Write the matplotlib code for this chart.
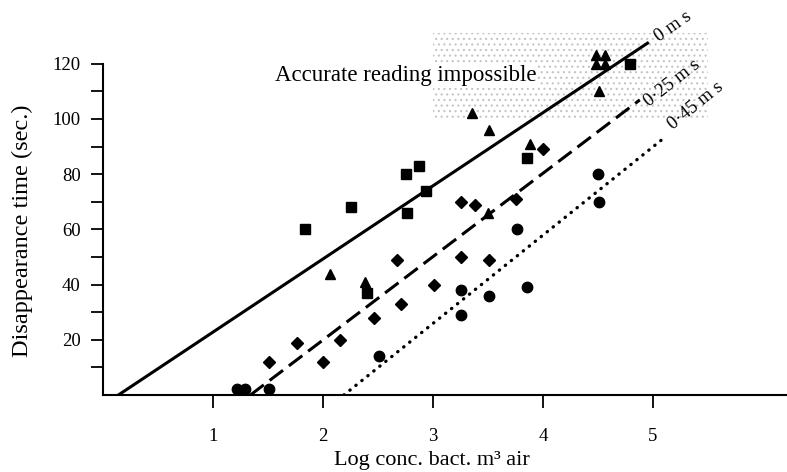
import matplotlib
matplotlib.use("Agg")
import matplotlib.pyplot as plt
from matplotlib.patches import Rectangle

# === DONNÉES ===
squares_x = [1.84, 2.25, 2.40, 2.75, 2.76, 2.87, 2.94, 3.85, 4.79]
squares_y = [60, 68, 37, 80, 66, 83, 74, 86, 120]

triangles_x = [2.06, 2.38, 3.35, 3.50, 3.51, 3.88, 4.51, 4.48, 4.56, 4.48, 4.56]
triangles_y = [44, 41, 102, 66, 96, 91, 110, 123, 123, 120, 120]

diamonds_x = [1.51, 1.76, 2.00, 2.15, 2.46, 2.67, 2.71, 3.01, 3.25, 3.25, 3.38, 3.51, 3.75, 4.00]
diamonds_y = [12, 19, 12, 20, 28, 49, 33, 40, 50, 70, 69, 49, 71, 89]

circles_x = [1.22, 1.29, 1.51, 2.51, 3.25, 3.25, 3.51, 3.76, 3.85, 4.50, 4.51]
circles_y = [2, 2, 2, 14, 38, 29, 36, 60, 39, 80, 70]

# droites (x début, x fin, pente)
line_labels = ["0 m s", "0·25 m s", "0·45 m s"]
line_x0 = [0.14, 1.34, 2.19]
line_x1 = [4.95, 4.88, 5.12]
line_slope = [26.5, 30.2, 32.0]

x_ticks = [1, 2, 3, 4, 5]
y_ticks = [20, 40, 60, 80, 100, 120]
y_minor = [10, 30, 50, 70, 90, 110]

plt.rcParams["font.family"] = ["Liberation Serif", "DejaVu Serif"]
plt.rcParams["hatch.linewidth"] = 0.8

fig = plt.figure(figsize=(7.87, 4.72), dpi=100)
ax = fig.add_axes([103 / 787, 77 / 472, 684 / 787, (395 - 19.6) / 472])
ax.set_xlim(0, 684 / 110)
ax.set_ylim(0, 136)

# zone grisée
ax.add_patch(Rectangle((3.0, 100.5), 2.5, 30.5, facecolor="none", edgecolor="#c4c4c4",
                       hatch="...", linewidth=0, zorder=0))
ax.text(1.56, 115.6, "Accurate reading impossible", fontsize=16.5, va="center", ha="left",
        bbox=dict(facecolor="white", edgecolor="none", pad=1), zorder=1)

styles = [dict(linestyle="-", linewidth=2.2),
          dict(linestyle=(0, (5.5, 2.4)), linewidth=2.2),
          dict(linestyle=(0, (0.1, 2.2)), linewidth=2.4, dash_capstyle="round")]
for x0, x1, k, st in zip(line_x0, line_x1, line_slope, styles):
    ax.plot([x0, x1], [0, k * (x1 - x0)], color="black", zorder=2, **st)

label_pos = [(5.18, 133.5, 35), (5.17, 113, 38), (5.39, 104.7, 39)]
for lab, (tx, ty, rot) in zip(line_labels, label_pos):
    ax.text(tx, ty, lab, fontsize=13.5, rotation=rot, ha="center", va="center", clip_on=False)

ax.plot(squares_x, squares_y, "s", color="black", markersize=6.5, zorder=3)
ax.plot(triangles_x, triangles_y, "^", color="black", markersize=7, zorder=3)
ax.plot(diamonds_x, diamonds_y, "D", color="black", markersize=6.5, zorder=3)
ax.plot(circles_x, circles_y, "o", color="black", markersize=7.5, zorder=3, clip_on=False)

for s in ["top", "right"]:
    ax.spines[s].set_visible(False)
ax.spines["left"].set_bounds(0, 120)
ax.spines["left"].set_linewidth(1.5)
ax.spines["bottom"].set_linewidth(1.5)

ax.set_xticks(x_ticks)
ax.set_yticks(y_ticks)
ax.set_yticks(y_minor, minor=True)
ax.tick_params(axis="both", which="both", direction="out", length=9, width=1.3, labelsize=13.5)
ax.tick_params(axis="x", pad=15)
ax.tick_params(axis="y", pad=7)

# titres des axes, placés en pixels de la figure
fig.text(432 / 787, 1 - 461 / 472, "Log conc. bact. m³ air", fontsize=16,
         ha="center", va="center")
fig.text(22 / 787, 1 - 231 / 472, "Disappearance time (sec.)", fontsize=17.5,
         ha="center", va="center", rotation=90)

fig.savefig("out.png", dpi=100)
